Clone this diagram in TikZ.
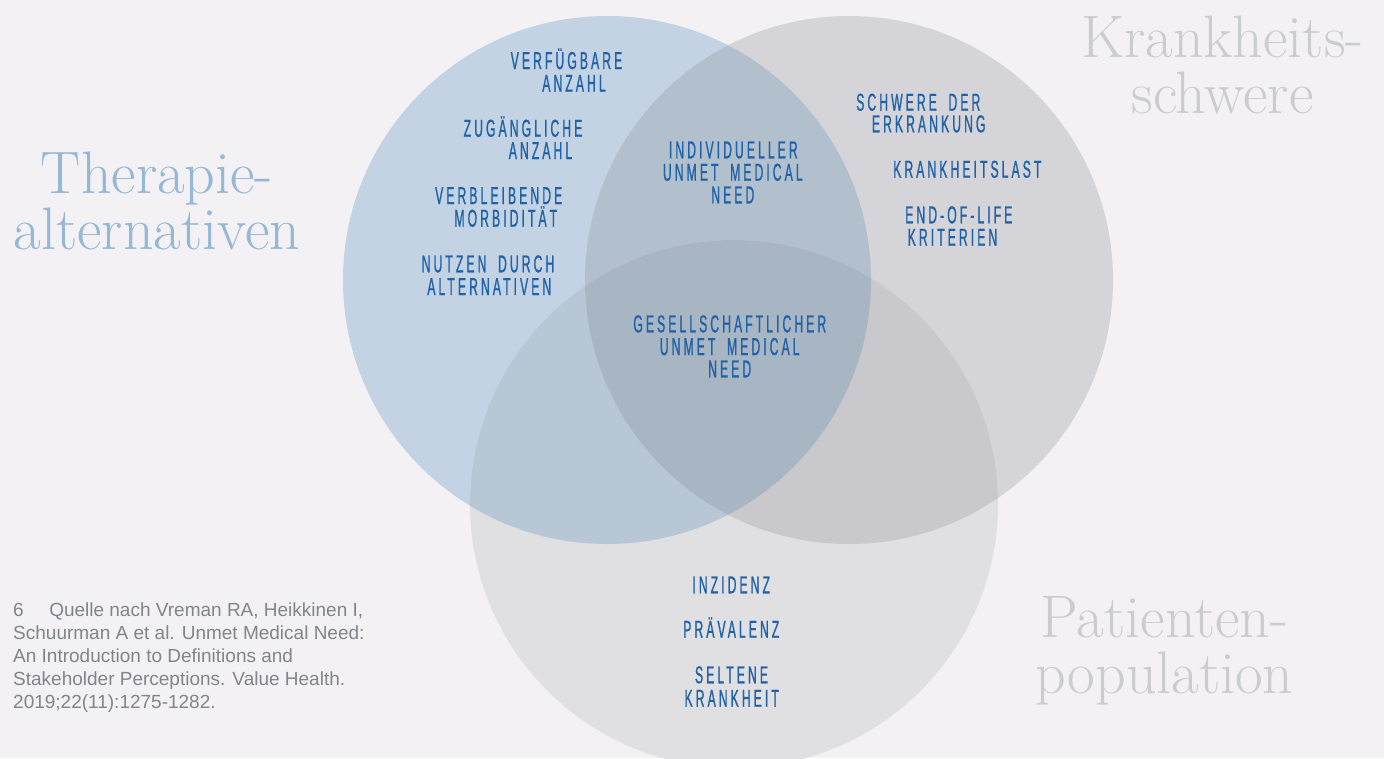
\documentclass[tikz,border=0pt]{standalone}
\usepackage{fontspec}
\newfontfamily\labfont[FakeStretch=0.5,LetterSpace=12.5,FakeBold=0.8,WordSpace=1.8]{Liberation Sans}
\newfontfamily\notefont{Liberation Sans}
\definecolor{bg}{HTML}{F3F1F4}
\definecolor{cB}{RGB}{195,211,227}
\definecolor{cR}{RGB}{213,212,216}
\definecolor{cP}{RGB}{224,223,226}
\definecolor{cBR}{RGB}{178,192,205}
\definecolor{cBP}{RGB}{184,199,214}
\definecolor{cRP}{RGB}{200,200,205}
\definecolor{cBRP}{RGB}{168,182,196}
\definecolor{labblue}{RGB}{31,98,168}
\definecolor{titleblue}{RGB}{148,184,214}
\definecolor{titlegray}{RGB}{203,204,207}
\definecolor{notegray}{RGB}{128,133,140}
\begin{document}
\begin{tikzpicture}[x=1pt,y=-1pt,
  lab/.style={anchor=base,inner sep=0pt,text=labblue,font=\labfont\fontsize{24.4}{24}\selectfont},
  ttl/.style={anchor=base,inner sep=0pt,align=center,font=\fontsize{60}{56}\selectfont},
  note/.style={anchor=base west,inner sep=0pt,align=left,text=notegray,font=\notefont\fontsize{19}{23}\selectfont}]
\fill[bg] (0,0) rectangle (1384,758);
\useasboundingbox (0,0) rectangle (1384,758);
\coordinate (B) at (607,280);
\coordinate (R) at (849,280);
\coordinate (P) at (734,504);
\def\rr{264}
\fill[cB] (B) circle[radius=\rr];
\fill[cR] (R) circle[radius=\rr];
\fill[cP] (P) circle[radius=\rr];
\begin{scope}\clip (B) circle[radius=\rr]; \fill[cBR] (R) circle[radius=\rr]; \fill[cBP] (P) circle[radius=\rr];\end{scope}
\begin{scope}\clip (R) circle[radius=\rr]; \fill[cRP] (P) circle[radius=\rr];\end{scope}
\begin{scope}\clip (B) circle[radius=\rr]; \clip (R) circle[radius=\rr]; \fill[cBRP] (P) circle[radius=\rr];\end{scope}
% titles (anchor = baseline of last line)
\node[ttl,text=titleblue] (tT) at (157,249.3) {Therapie-\\alternativen};
\node[ttl,text=titlegray] (tK) at (1222.5,113.3) {Krankheits-\\schwere};
\node[ttl,text=titlegray] (tP) at (1164.6,693) {Patienten-\\population};
% blue circle labels
\node[lab] (b1) at (566.5,69) {VERFÜGBARE};
\node[lab] (b2) at (574,91.7) {ANZAHL};
\node[lab] (b3) at (523,136.7) {ZUGÄNGLICHE};
\node[lab] (b4) at (540.5,159) {ANZAHL};
\node[lab] (b5) at (498.7,204) {VERBLEIBENDE};
\node[lab] (b6) at (505.8,226.7) {MORBIDITÄT};
\node[lab] (b7) at (488,272.3) {NUTZEN DURCH};
\node[lab] (b8) at (489.3,295) {ALTERNATIVEN};
% intersections
\node[lab] (i1) at (733.3,158.3) {INDIVIDUELLER};
\node[lab] (i2) at (732.8,180.7) {UNMET MEDICAL};
\node[lab] (i3) at (732.8,203.3) {NEED};
\node[lab] (g1) at (729.8,332.3) {GESELLSCHAFTLICHER};
\node[lab] (g2) at (729.7,355) {UNMET MEDICAL};
\node[lab] (g3) at (729.7,377.3) {NEED};
% right circle
\node[lab] (k1) at (918.3,110.7) {SCHWERE DER};
\node[lab] (k2) at (928.7,132.3) {ERKRANKUNG};
\node[lab] (k3) at (967.3,177.7) {KRANKHEITSLAST};
\node[lab] (k4) at (958.8,223.3) {END-OF-LIFE};
\node[lab] (k5) at (952.5,245.7) {KRITERIEN};
% bottom circle
\node[lab] (p1) at (731.2,593.3) {INZIDENZ};
\node[lab] (p2) at (731.3,637.7) {PRÄVALENZ};
\node[lab] (p3) at (731.5,683.3) {SELTENE};
\node[lab] (p4) at (731.7,706.7) {KRANKHEIT};
% footnote (anchor = baseline of last line)
\node[note] (fn) at (13,708.3) {6\hspace{25.5pt}Quelle nach Vreman RA, Heikkinen I,\\Schuurman A et al. Unmet Medical Need:\\An Introduction to Definitions and\\Stakeholder Perceptions. Value Health.\\2019;22(11):1275-1282.};
\end{tikzpicture}
\end{document}
